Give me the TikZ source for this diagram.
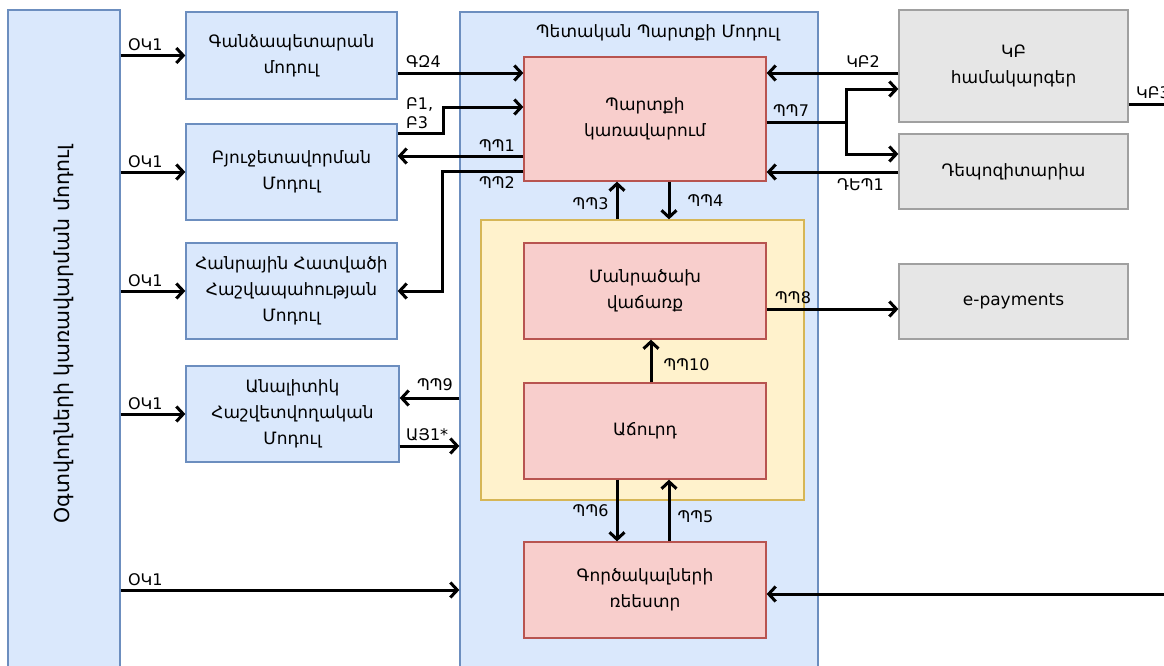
\documentclass[tikz,border=0pt]{standalone}
\usepackage{fontspec}
\setmainfont{DejaVu Sans}
\usetikzlibrary{arrows.meta}
\usepackage{xcolor}
\definecolor{blueFill}{HTML}{DAE8FC}
\definecolor{blueLine}{HTML}{6C8EBF}
\definecolor{redFill}{HTML}{F8CECC}
\definecolor{redLine}{HTML}{B85450}
\definecolor{yelFill}{HTML}{FFF2CC}
\definecolor{yelLine}{HTML}{D6B656}
\definecolor{greyFill}{HTML}{E6E6E6}
\definecolor{greyLine}{HTML}{A0A0A0}
\newcommand\boxfont{\fontsize{17}{26}\selectfont}
\newcommand\lblfont{\fontsize{16}{19}\selectfont}

\begin{document}
\begin{tikzpicture}[x=1pt, y=-1pt,
	box/.style={draw, line width=1.3pt, align=center, font=\boxfont, inner sep=0pt},
	bluebox/.style={box, fill=blueFill, draw=blueLine},
	redbox/.style={box, fill=redFill, draw=redLine, minimum width=242, minimum height=96},
	greybox/.style={box, fill=greyFill, draw=greyLine, minimum width=229},
	arr/.style={line width=3pt, -{Straight Barb[length=7pt, width=15pt]}},
	lbl/.style={font=\lblfont, inner sep=1pt}]
	\path[use as bounding box] (0,0) rectangle (1164,665);
	\clip (0,0) rectangle (1164,665);

	% left column
	\node[bluebox, minimum width=112, minimum height=680] (users) at (64,350) {};
	\node[rotate=90, font=\fontsize{20.5}{24}\selectfont] (userstxt) at (64,334) {Օգտվողների կառավարման մոդուլ};
	\node[bluebox, minimum width=211, minimum height=87] (gz) at (291.5,55.5) {Գանձապետարան\\մոդուլ};
	\node[bluebox, minimum width=211, minimum height=96] (bj) at (291.5,172) {Բյուջետավորման\\Մոդուլ};
	\node[bluebox, minimum width=211, minimum height=96] (hh) at (291.5,291) {Հանրային Հատվածի\\Հաշվապահության\\Մոդուլ};
	\node[bluebox, minimum width=213, minimum height=96] (an) at (292.5,414) {Անալիտիկ\\Հաշվետվողական\\Մոդուլ};

	% debt module
	\node[bluebox, minimum width=358, minimum height=690] (ppm) at (639,357) {};
	\node[font=\boxfont] (ppmtitle) at (658,33) {Պետական Պարտքի Մոդուլ};
	\node[redbox, minimum height=124] (pk) at (645,119) {Պարտքի\\կառավարում};
	\node[box, fill=yelFill, draw=yelLine, minimum width=323, minimum height=280] (yel) at (642.5,360) {};
	\node[redbox] (mv) at (645,291) {Մանրածախ\\վաճառք};
	\node[redbox] (ac) at (645,431) {Աճուրդ};
	\node[redbox] (gr) at (645,590) {Գործակալների\\ռեեստր};

	% right column
	\node[greybox, minimum height=112] (kb) at (1013.5,66) {ԿԲ\\համակարգեր};
	\node[greybox, minimum height=75] (dp) at (1013.5,171.5) {Դեպոզիտարիա};
	\node[greybox, minimum height=75] (ep) at (1013.5,301.5) {e-payments};

	% users -> modules
	\foreach \m in {gz,bj,hh,an}
		\draw[arr] (users.east |- \m.west) node[lbl, anchor=south west, xshift=5pt, yshift=2pt] {ՕԿ1} -- (\m.west);
	\draw[arr] (users.east |- gr.west) node[lbl, anchor=south west, xshift=5pt, yshift=2pt] {ՕԿ1} -- (ppm.west |- gr.west);

	% left side of debt management
	\draw[arr] (gz.east |- 0,73) node[lbl, anchor=south west, xshift=6pt, yshift=3pt] {ԳԶ4} -- (pk.west |- 0,73);
	\draw[arr] (bj.east |- 0,133) node[lbl, anchor=south west, align=left, xshift=6pt, yshift=2pt] {Բ1,\\Բ3} -- ++(46,0) |- (pk.west |- 0,107);
	\draw[arr] (pk.west |- 0,156) node[lbl, anchor=south east, xshift=-6pt, yshift=2pt] {ՊՊ1} -- (bj.east |- 0,156);
	\draw[arr] (pk.west |- 0,171) node[lbl, anchor=north east, xshift=-6pt, yshift=-3pt] {ՊՊ2} -- ++(-81,0) |- (hh.east);
	\draw[arr] (ppm.west |- 0,398) node[lbl, anchor=south east, xshift=-4pt, yshift=5pt] {ՊՊ9} -- (an.east |- 0,398);
	\draw[arr] (an.east |- 0,446) node[lbl, anchor=south west, xshift=4pt, yshift=3pt] {ԱՅ1*} -- (ppm.west |- 0,446);

	% inside the debt module
	\draw[arr] (yel.north -| 617,0) -- node[lbl, left, xshift=-6pt, yshift=-3pt] {ՊՊ3} (pk.south -| 617,0);
	\draw[arr] (pk.south -| 669,0) -- node[lbl, right, xshift=16pt] {ՊՊ4} (yel.north -| 669,0);
	\draw[arr] (ac.north -| 651,0) -- node[lbl, right, xshift=10pt, yshift=-4pt] {ՊՊ10} (mv.south -| 651,0);
	\draw[arr] (ac.south -| 617,0) -- node[lbl, left, xshift=-6pt] {ՊՊ6} (gr.north -| 617,0);
	\draw[arr] (gr.north -| 669,0) -- node[lbl, right, xshift=6pt, yshift=-6pt] {ՊՊ5} (ac.south -| 669,0);

	% right side
	\draw[arr] (kb.west |- 0,73) node[lbl, anchor=south east, xshift=-16pt, yshift=3pt] {ԿԲ2} -- (pk.east |- 0,73);
	\draw[line width=3pt] (pk.east |- 0,122) node[lbl, anchor=south west, xshift=4pt, yshift=3pt] {ՊՊ7} -- (846,122) coordinate (fork);
	\draw[arr] (fork) |- (kb.west |- 0,89);
	\draw[arr] (fork) |- (dp.west |- 0,154);
	\draw[arr] (dp.west |- 0,172) node[lbl, anchor=north east, xshift=-12pt, yshift=-4pt] {ԴԵՊ1} -- (pk.east |- 0,172);
	\coordinate (kbout) at (1175,104);
	\draw[line width=3pt] (kb.east |- kbout) node[lbl, anchor=south west, xshift=5pt, yshift=3pt] {ԿԲ3} -- (kbout);
	\draw[arr] (mv.east |- 0,309) node[lbl, anchor=south west, xshift=6pt, yshift=3pt] {ՊՊ8} -- (ep.west |- 0,309);
	\coordinate (grin) at (1175,594);
	\draw[arr] (grin) -- (gr.east |- grin);

\end{tikzpicture}
\end{document}
